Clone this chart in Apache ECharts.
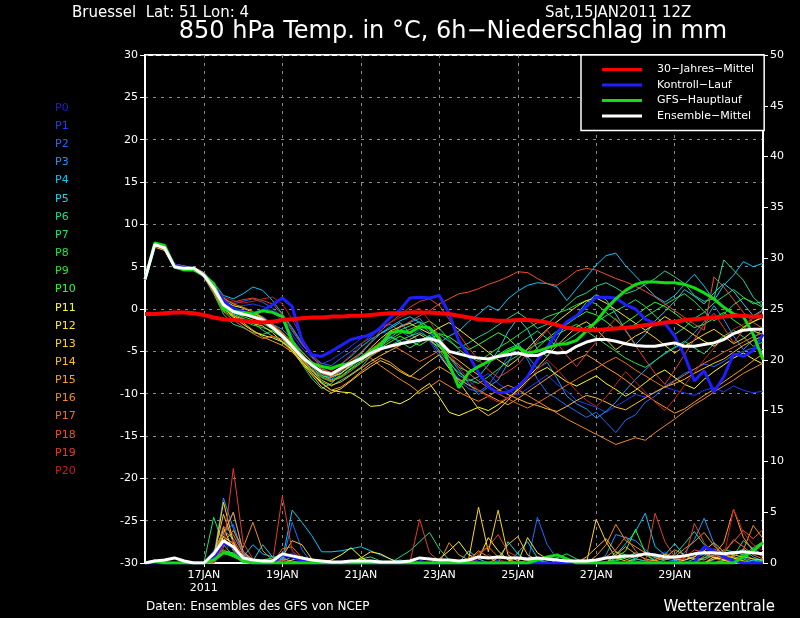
<!DOCTYPE html>
<html>
<head>
<meta charset="utf-8">
<script src="https://cdn.jsdelivr.net/npm/echarts@6/dist/echarts.min.js"></script>
<style>
  html, body { margin: 0; padding: 0; background: #000; }
  #chart { width: 800px; height: 618px; }
</style>
</head>
<body>
<div id="chart"></div>
<script>
// 6-hourly steps, 15JAN2011 12Z .. 31JAN2011 06Z (64 points)
const tickIndex = [6, 14, 22, 30, 38, 46, 54];
const tickLabels = ['17JAN\n2011', '19JAN', '21JAN', '23JAN', '25JAN', '27JAN', '29JAN'];

// 850 hPa temperature (°C)
const climate = [-0.6,-0.6,-0.5,-0.4,-0.4,-0.5,-0.7,-1.0,-1.2,-1.3,-1.4,-1.5,-1.6,-1.5,-1.3,-1.2,
  -1.1,-1.0,-1.0,-0.9,-0.9,-0.8,-0.8,-0.7,-0.6,-0.5,-0.5,-0.4,-0.4,-0.4,-0.5,-0.6,
  -0.8,-1.0,-1.2,-1.3,-1.4,-1.4,-1.3,-1.3,-1.4,-1.6,-1.9,-2.2,-2.4,-2.5,-2.5,-2.4,
  -2.3,-2.2,-2.1,-1.9,-1.8,-1.6,-1.5,-1.3,-1.2,-1.1,-1.0,-0.9,-0.8,-0.8,-0.9,-0.9];
const control = [3.5,7.5,7.3,5.2,4.9,4.7,4.0,2.8,1.0,0.0,-0.3,-0.5,-0.2,0.5,1.3,0.3,
  -3.7,-5.4,-5.6,-5.0,-4.3,-3.6,-3.3,-3.1,-2.2,-1.0,-0.1,1.3,1.4,1.3,1.6,-0.5,
  -3.8,-5.5,-7.5,-9.2,-9.9,-9.8,-9.2,-8.0,-6.0,-4.5,-2.8,-1.5,-0.8,0.3,1.4,1.4,
  1.3,0.5,0.0,-1.2,-1.7,-1.7,-3.2,-5.5,-8.5,-7.3,-9.8,-8.0,-5.3,-5.6,-4.9,-3.0];
const gfsMain = [3.5,7.8,7.5,5.0,4.6,4.6,4.0,3.0,0.0,-0.3,-0.4,-0.6,-0.2,-0.4,-0.9,-3.8,
  -5.8,-6.4,-6.8,-7.0,-6.6,-6.4,-5.8,-5.0,-4.2,-2.8,-2.6,-2.8,-2.1,-2.2,-3.5,-6.5,
  -9.3,-7.5,-6.8,-6.2,-5.6,-5.0,-4.5,-5.2,-5.0,-4.6,-4.2,-4.1,-3.7,-2.6,-1.5,0.0,
  1.2,2.2,2.9,3.2,3.2,3.1,3.1,2.9,2.5,1.9,1.2,0.2,-0.6,-0.9,-3.0,-6.0];
const ensMean = [3.5,7.6,7.2,5.0,4.8,4.8,4.0,2.5,0.5,-0.3,-0.6,-0.9,-1.3,-2.2,-3.2,-4.4,
  -5.7,-6.6,-7.4,-7.7,-7.0,-6.4,-5.9,-5.2,-4.7,-4.4,-4.1,-3.9,-3.7,-3.5,-3.8,-5.0,
  -5.3,-5.6,-5.8,-5.9,-5.6,-5.4,-5.2,-5.5,-5.5,-5.0,-5.2,-5.1,-4.4,-3.9,-3.6,-3.6,
  -3.8,-4.1,-4.3,-4.4,-4.4,-4.2,-4.0,-4.4,-4.4,-4.2,-4.0,-3.6,-2.9,-2.5,-2.4,-2.4];

const p1 = [3.5,7.4,7.0,5.1,4.9,4.6,3.7,2.2,0.8,0.2,0.4,0.6,0.3,-0.2,-1.5,-3.0,-4.6,-5.8,-6.5,-6.0,-5.2,-4.4,
  -3.5,-2.8,-2.5,-3.2,-4.0,-3.6,-2.9,-3.8,-5.6,-7.0,-8.2,-9.0,-8.4,-7.6,-8.8,-9.6,-10.2,-9.4,-8.6,-7.8,-8.9,-9.7,-10.8,-11.2,
  -11.6,-12.2,-11.5,-10.8,-10.1,-10.4,-9.9,-9.2,-9.6,-9.9,-10.2,-9.6,-9.3,-9.8,-9.1,-9.6,-9.9,-9.7];
const p2 = [3.5,7.7,7.3,5.0,4.7,4.9,4.2,2.9,1.2,0.6,0.9,1.2,0.8,0.1,-1.0,-2.6,-4.2,-5.5,-6.4,-6.7,-5.8,-5.0,
  -4.1,-3.4,-2.2,-1.8,-2.6,-3.3,-2.4,-3.6,-5.2,-6.8,-8.4,-9.4,-9.8,-9.0,-7.4,-5.6,-4.4,-6.0,-8.3,-9.9,-10.6,-11.4,-12.1,-12.8,
  -12.2,-13.4,-14.6,-13.1,-12.5,-11.0,-10.3,-9.1,-8.4,-7.6,-7.1,-6.5,-6.8,-6.2,-5.4,-5.0,-4.6,-4.8];
const p3 = [3.5,7.5,7.1,5.2,5.0,4.8,4.1,2.6,0.4,-0.5,-0.8,-0.5,-0.9,-1.8,-2.4,-3.6,-5.0,-6.2,-7.6,-8.3,-7.5,-6.8,
  -6.0,-5.4,-4.6,-3.1,-2.0,-1.6,-1.1,-2.5,-4.1,-5.7,-7.2,-8.8,-10.1,-9.2,-8.4,-6.4,-4.0,-5.6,-7.0,-6.3,-8.2,-10.3,-11.2,-11.8,
  -12.9,-12.1,-11.0,-9.6,-8.3,-7.2,-6.1,-5.3,-4.6,-4.0,-2.8,-1.5,0.4,-1.2,-3.2,-4.8,-3.6,-2.2];
const p4 = [3.5,7.8,7.5,5.3,5.0,4.9,4.3,3.1,1.6,1.2,1.8,2.6,2.2,1.0,-0.6,-2.2,-4.0,-5.6,-6.8,-7.2,-6.5,-5.6,
  -4.5,-3.6,-2.9,-2.1,-1.4,-0.9,-1.6,-2.8,-4.0,-3.2,-2.6,-1.5,-0.6,0.4,-0.2,1.2,2.1,2.8,3.1,3.0,2.6,1.0,2.4,3.8,
  5.2,6.3,6.6,5.1,3.9,2.7,1.5,0.8,1.6,2.9,4.1,2.7,1.0,2.8,4.0,5.6,5.0,5.4];
const p5 = [3.5,7.6,7.2,5.1,4.8,4.7,4.0,2.4,0.6,-0.2,-0.4,-1.0,-1.6,-2.0,-2.9,-4.1,-5.6,-6.9,-7.9,-8.1,-7.3,-6.4,
  -5.3,-4.0,-2.9,-2.3,-1.6,-2.8,-3.9,-3.2,-4.4,-6.2,-7.8,-8.5,-8.0,-6.6,-4.9,-2.7,-1.1,-2.4,-4.8,-5.6,-3.5,-1.6,-0.7,0.8,
  1.7,1.1,-0.6,-2.5,-4.2,-3.0,-1.4,-0.3,0.9,2.3,1.5,0.6,1.9,3.0,2.1,0.6,-0.8,-0.1];
const p6 = [3.5,7.4,7.0,4.8,4.6,4.8,3.9,2.3,0.2,-0.6,-1.1,-1.6,-2.5,-3.2,-3.8,-4.6,-5.9,-7.2,-8.6,-9.1,-8.4,-7.7,
  -6.9,-5.6,-4.2,-3.4,-2.5,-2.0,-1.5,-2.2,-3.0,-3.8,-4.6,-4.0,-3.3,-2.7,-1.9,-1.1,-0.4,-1.2,-2.3,-1.8,-0.7,0.4,1.4,1.9,
  2.7,3.1,2.5,1.8,2.2,2.9,3.6,4.5,3.8,3.0,1.6,0.9,1.2,5.8,4.6,3.4,1.4,0.3];
const p7 = [3.5,7.6,7.3,5.2,4.9,4.6,3.8,1.8,-0.6,-1.8,-2.2,-2.8,-3.0,-2.6,-3.2,-4.8,-6.5,-8.2,-9.4,-8.8,-7.6,-6.5,
  -5.6,-4.9,-4.1,-3.3,-3.8,-4.6,-3.9,-3.1,-4.3,-5.6,-6.9,-7.4,-6.8,-6.1,-5.4,-4.7,-4.2,-3.4,-2.6,-3.5,-4.4,-3.7,-2.9,-2.1,
  -1.6,-0.8,-0.2,0.4,1.1,0.3,-0.8,-1.9,-3.0,-2.2,-1.1,-0.4,0.7,1.5,2.3,1.4,0.6,0.9];
const p8 = [3.5,7.5,7.1,5.0,4.8,4.9,4.1,2.7,0.9,0.1,-0.2,-0.6,-1.2,-2.1,-3.5,-4.9,-6.2,-7.3,-8.1,-8.6,-8.0,-7.1,
  -6.4,-5.5,-4.8,-4.3,-3.7,-3.2,-2.8,-3.4,-4.9,-6.4,-7.5,-8.3,-8.8,-8.0,-7.1,-6.2,-5.5,-4.8,-4.1,-3.6,-3.0,-2.4,-1.8,-2.6,
  -3.4,-4.2,-5.0,-5.8,-6.4,-6.9,-6.1,-5.2,-4.5,-3.8,-4.6,-5.3,-4.1,-3.2,-2.5,-3.3,-4.4,-3.9];
const p9 = [3.5,7.7,7.4,5.1,4.9,4.7,3.9,2.0,-0.2,-1.0,-1.4,-1.9,-2.2,-2.6,-3.4,-4.4,-5.7,-6.8,-7.5,-7.9,-7.2,-6.6,
  -6.0,-5.2,-4.4,-3.6,-2.9,-2.4,-1.9,-1.4,-2.3,-3.6,-4.8,-5.6,-6.2,-5.4,-4.6,-3.9,-3.1,-2.3,-1.6,-0.9,-0.5,-0.1,0.5,1.0,
  0.6,-0.4,-1.3,-2.4,-1.8,-0.9,-0.2,0.5,1.2,1.8,0.9,-0.3,-1.4,-0.6,0.5,1.3,0.8,0.2];
const p10 = [3.5,7.5,7.2,5.0,4.7,4.8,4.0,2.3,0.3,-0.4,-0.9,-1.3,-1.7,-2.4,-3.1,-4.0,-5.3,-6.6,-7.8,-8.4,-7.9,-7.0,
  -6.2,-5.3,-4.6,-3.9,-3.2,-3.8,-4.3,-3.6,-2.9,-3.3,-4.1,-4.8,-4.2,-3.5,-2.8,-3.4,-4.6,-5.8,-4.6,-3.5,-2.6,-1.8,-1.0,-0.3,
  -0.7,-1.5,-2.4,-1.6,-0.8,0.1,0.8,0.3,-0.5,-1.4,-2.2,-1.8,-1.1,-0.4,-1.3,-2.1,-1.5,-0.9];
const p11 = [3.5,7.4,7.0,5.2,5.0,4.7,3.8,2.1,0.1,-0.9,-1.8,-2.6,-3.1,-3.4,-3.9,-4.8,-6.2,-7.5,-8.7,-9.6,-9.8,-9.9,
  -10.6,-11.5,-11.4,-10.9,-11.2,-10.6,-9.6,-8.8,-10.4,-12.2,-12.6,-12.1,-11.6,-12.0,-11.3,-10.5,-9.6,-8.4,-7.5,-6.9,-7.8,-8.6,-9.1,-8.5,
  -7.9,-8.8,-9.5,-10.3,-9.6,-8.7,-7.8,-7.2,-8.1,-8.9,-9.4,-8.3,-7.4,-6.6,-5.8,-5.2,-5.9,-6.5];
const p12 = [3.5,7.7,7.3,5.0,4.8,4.9,4.2,2.8,1.0,0.4,0.1,-0.4,-1.1,-2.0,-3.0,-4.2,-5.4,-6.6,-7.4,-8.0,-7.6,-6.7,
  -5.8,-4.6,-3.5,-2.6,-2.1,-1.7,-2.3,-2.9,-2.2,-1.6,-2.4,-3.3,-4.2,-5.1,-6.0,-6.8,-5.9,-4.7,-3.5,-2.4,-1.5,-0.6,0.3,1.0,
  1.3,0.7,-0.1,-0.9,-1.7,-2.5,-1.8,-0.9,-1.6,-2.3,-3.1,-3.8,-4.4,-3.6,-2.9,-2.2,-1.5,-1.0];
const p13 = [3.5,7.5,7.1,5.1,4.9,4.6,3.9,2.2,0.0,-0.8,-1.2,-1.7,-2.0,-2.8,-3.9,-5.0,-6.4,-7.8,-9.2,-9.9,-9.4,-8.5,
  -7.6,-6.8,-6.1,-6.6,-7.4,-8.0,-7.1,-6.2,-5.4,-7.0,-8.6,-10.2,-11.8,-12.6,-11.9,-10.8,-9.4,-8.1,-6.9,-5.6,-4.3,-3.2,-2.1,-1.5,
  -2.4,-3.6,-4.8,-4.0,-3.2,-2.6,-3.4,-4.3,-5.2,-4.4,-3.7,-3.0,-2.4,-3.2,-4.1,-3.5,-2.6,-3.0];
const p14 = [3.5,7.3,6.9,4.9,4.7,4.8,4.1,2.6,0.7,-0.1,-0.5,-0.9,-1.5,-2.3,-3.3,-4.5,-5.9,-7.2,-8.4,-9.0,-8.6,-7.8,
  -7.0,-6.2,-5.5,-4.9,-4.3,-3.6,-3.0,-3.7,-4.5,-5.3,-6.1,-7.0,-7.8,-8.7,-9.5,-10.1,-10.6,-11.1,-11.4,-11.8,-12.1,-11.5,-10.8,-10.2,
  -10.5,-11.0,-11.6,-11.9,-11.2,-10.5,-9.8,-9.2,-8.8,-8.3,-7.6,-7.0,-6.4,-5.9,-5.1,-4.3,-3.7,-3.2];
const p15 = [3.5,7.6,7.2,5.3,5.1,4.8,4.0,2.4,0.2,-0.7,-1.6,-2.5,-3.3,-3.8,-4.3,-5.1,-6.3,-7.6,-8.8,-9.6,-9.2,-8.4,
  -7.4,-6.5,-5.8,-6.3,-7.2,-7.9,-8.4,-7.6,-6.8,-7.5,-8.3,-9.0,-9.6,-10.2,-10.8,-11.3,-10.6,-9.8,-9.0,-8.2,-7.4,-6.6,-5.9,-5.4,
  -6.1,-6.9,-7.6,-8.4,-9.3,-10.1,-10.9,-11.6,-12.3,-11.8,-11.0,-10.2,-9.5,-8.6,-7.8,-7.0,-6.1,-5.3];
const p16 = [3.5,7.8,7.4,5.0,4.8,4.9,4.3,3.0,1.3,0.6,0.2,-0.3,-1.0,-1.9,-2.8,-3.8,-5.1,-6.2,-7.1,-7.5,-6.9,-6.0,
  -5.2,-5.8,-6.7,-7.5,-8.3,-9.0,-9.9,-9.2,-8.4,-9.1,-9.8,-10.4,-10.9,-10.3,-9.6,-9.0,-9.5,-10.2,-10.9,-11.6,-12.3,-13.0,-13.6,-14.2,
  -14.8,-15.4,-16.0,-15.6,-15.2,-15.5,-14.6,-13.8,-13.0,-12.1,-11.3,-10.6,-9.8,-9.1,-8.4,-7.6,-7.0,-6.4];
const p17 = [3.5,7.5,7.1,5.1,4.8,4.6,3.8,2.0,-0.3,-1.3,-2.1,-2.9,-3.5,-3.2,-3.6,-4.7,-6.0,-7.1,-8.0,-8.5,-8.1,-7.3,
  -6.4,-5.6,-4.9,-4.2,-4.8,-5.5,-6.2,-5.6,-4.9,-5.7,-6.6,-7.6,-8.5,-9.3,-10.0,-10.6,-11.2,-11.7,-11.1,-10.4,-9.7,-9.0,-8.3,-7.6,
  -7.0,-6.3,-5.7,-6.4,-7.2,-7.9,-8.6,-9.3,-8.5,-7.8,-7.1,-6.4,-5.8,-5.1,-4.5,-3.9,-3.3,-2.8];
const p18 = [3.5,7.6,7.3,5.2,5.0,4.7,3.9,2.5,0.6,-0.2,-0.6,-1.1,-1.4,-1.8,-2.7,-4.0,-5.5,-6.7,-7.6,-8.0,-7.3,-6.5,
  -5.7,-4.8,-3.9,-3.0,-2.2,-1.5,-0.8,-0.2,0.6,1.2,1.8,2.0,2.4,2.9,3.3,3.8,4.4,4.3,3.6,3.0,2.8,3.6,4.5,4.8,
  4.6,4.1,3.6,3.2,2.7,2.1,1.4,0.6,-0.2,-1.0,-1.8,-2.5,3.8,2.6,1.1,-0.4,-1.6,-2.3];
const p19 = [3.5,7.4,7.0,4.9,4.7,4.8,4.0,2.7,1.0,0.8,1.1,1.3,1.0,0.6,-0.7,-2.4,-4.1,-5.6,-6.9,-7.7,-7.2,-6.2,
  -5.1,-3.9,-2.6,-1.6,-0.7,0.2,0.9,1.2,0.4,-1.2,-3.0,-4.6,-6.0,-7.2,-8.1,-7.4,-6.6,-5.2,-3.8,-2.5,-4.0,-5.5,-6.8,-5.3,
  -3.9,-2.4,-1.1,-2.6,-4.3,-6.0,-7.6,-8.9,-7.2,-5.4,-3.6,-1.8,-0.5,-2.2,-4.0,-2.5,-1.0,-0.2];
const p20 = [3.5,7.6,7.2,5.0,4.8,4.7,4.1,2.9,1.4,1.0,0.7,0.9,1.2,1.4,0.6,-1.2,-3.4,-5.3,-6.6,-7.3,-6.5,-5.4,
  -4.2,-3.1,-2.2,-1.6,-1.0,-0.4,0.1,-1.4,-3.2,-5.1,-6.9,-8.4,-9.6,-10.4,-11.0,-10.5,-9.9,-8.6,-7.2,-6.0,-7.1,-8.4,-9.7,-10.8,
  -11.5,-10.4,-8.9,-7.4,-8.6,-9.8,-11.0,-12.0,-10.6,-9.0,-7.5,-6.0,-4.6,-3.5,-2.4,-1.8,-1.1,-0.6];

// 6h precipitation (mm)
const rControl = [0,0,0,0,0,0,0,0.5, 2.0,1.5,0.4,0,0,0,0.8,0.6, 0.2,0,0,0,0,0,0,0, 0,0,0,0,0,0,0,0,
  0,0,0,0,0,0,0,0, 0,0,0,0,0,0,0,0, 0,0,0,0,0,0,0,0, 0,1.6,1.2,0.6,0.2,0,0,0];
const rGfs = [0,0.2,0,0,0,0,0,0.3, 1.0,0.8,0.2,0,0,0,0,0, 0,0,0,0,0,0,0,0, 0,0,0,0,0,0,0,0,
  0,0,0,0,0,0,0,0, 0.3,0.6,0.8,0.4,0,0,0,0, 0,0,0,0,0,0,0,0, 0,0,0,0,0,0.6,1.2,2.0];
const rMean = [0,0.2,0.3,0.5,0.2,0,0,0.9, 2.2,1.6,0.5,0.3,0.2,0.2,0.9,0.7, 0.5,0.3,0.2,0.1,0.1,0.2,0.2,0.2,
  0.1,0.1,0.1,0.2,0.5,0.4,0.3,0.3, 0.2,0.3,0.6,0.5,0.6,0.5,0.5,0.4, 0.5,0.4,0.3,0.2,0.2,0.2,0.3,0.5,
  0.6,0.7,0.7,0.9,0.8,0.6,0.6,0.7, 0.9,1.0,1.0,0.9,1.0,1.1,1.0,0.9];
const r1 = [0,0.2,0,0,0,0,0,0.8, 2.5,5.0,1.2,0.3,0,0,0.4,1.0, 0.3,0,0,0,0,0,0,0, 0,0,0,0,0.2,0.5,0,0,
  0,0,0.3,0.6,0.2,0,0,0, 0,0,0,0,0.2,0.4,0.3,0.1, 0,0,0,0,0.5,1.1,0.4,0.2, 0.8,1.6,0.6,0.3,0.2,0,0,0];
const r2 = [0,0,0.1,0,0,0,0,1.2, 3.1,3.8,0.8,0.2,0,0,0,4.0, 1.3,0,0,0,0,0,0,0, 0,0,0,0,0,0,0,0,
  0,0,0,0,0,0,0,0, 4.5,1.8,0.4,0,0,0,0,0, 0,0,0.4,0.2,0,0,0,0, 0,0,0.3,0.6,0.2,0.1,0,0.3];
const r3 = [0,0,0,0,0,0,0,0.6, 6.4,3.4,0.9,0.4,0,0,0.2,0.6, 0.1,0,0,0,0,0,0,0, 0,0,0,0,0,0,0,0,
  0.2,0.4,0,0,0,0,0,0, 0,0.6,0.3,0,0,0,0,0.8, 2.8,2.5,2.2,1.3,0.6,0.4,0.2,1.0, 2.3,4.4,1.9,0.6,0.3,0.5,0.2,0.1];
const r4 = [0,0,0,0,0,0,0,0.3, 2.2,1.6,0.6,1.8,0.9,0.6,0.3,5.2, 4.0,2.7,1.1,1.1,1.2,1.4,1.6,1.2, 0.8,0.4,0,0,0,0,0,0,
  0,0,0,0,0,0,1.0,2.1, 0.5,0,0,0,0,0,0,0, 0.8,1.9,3.1,4.9,1.6,0.8,0.3,0, 0.4,0.9,0.5,0.3,0.8,1.4,0.6,0.2];
const r5 = [0,0,0,0,0,0,0,1.0, 3.2,2.4,0.5,0.2,1.8,0.6,0.4,0.2, 0,0,0,0,0,0,0,0, 0,0,0.3,0,0,0,0,0,
  0,1.2,0.4,0,0,2.1,0.9,0.2, 0.3,0.6,0.4,0.2,0,0,0,0, 0,0,0.4,1.1,0.6,0.8,1.9,0.7, 0.3,0.5,1.2,0.6,0.2,0,0.3,0.1];
const r6 = [0,0,0.1,0,0,0,0,0, 1.2,1.0,0.3,0,0,0,0,0, 0,0,0,0,0,0,0,0, 0,0,0.6,1.2,2.1,3.0,1.4,0.3,
  0,0,0,0,0,0,0,0, 0,0,0,0,0,0,0,0, 1.1,0.8,0.4,0.2,0,0.3,0.8,1.9, 3.1,1.8,0.9,0.5,0.7,2.2,1.4,0.8];
const r7 = [0,0,0,0,0,0,0,4.5, 1.8,0.7,0.3,0,0,0,0,0, 0,0,0,0,0,0,0.4,0.6, 0.2,0,0,0,0,0,0,0,
  0,0,0,0,0,0,0,0, 0,0.2,0.5,0.9,0.4,0,0,0, 0.2,0.5,1.0,0.8,0.2,0,0,0, 0,0.5,0.8,1.3,1.1,0.8,1.5,2.1];
const r8 = [0,0,0,0,0,0,0,0.3, 1.1,0.9,0.2,0,0.3,0.5,0.9,0.7, 0.5,0.4,0.2,0,0,0,0,0, 0,0,0,0,0,0,0,0,
  0,0,0,0,0,0,0,0, 0,0,0,0,0,0,0,0.1, 0.3,0.6,0.2,0,0,0,0,0, 0,0,0,0.2,0.4,0.8,0.4,0.2];
const r9 = [0,0,0,0,0,0,0,0.6, 1.3,0.8,0,0,0,0,0,0, 0,0,0,0,0,0,0,0, 0,0,0,0,0,0,0,0,
  0,0,0,0,0,0,0,0, 0,0,0,0,0,0,0,0, 0,0,0,0,0,0,0,0, 0,0,0,0.3,0.6,0.4,0,0];
const r10 = [0,0.3,0,0,0,0,0,0.4, 1.0,0.6,0.2,0,0,0,0,0, 0,0,0,0,0,0,0,0, 0,0,0,0,0,0,0,0,
  0,0,0,0,0,0,0,0.3, 0,0,0,0,0,0,0,0, 0.5,1.2,3.3,1.0,0.2,0,0,0, 0,0,0,0,0,0.2,0,0];
const r11 = [0,0,0,0,0,0,0,0.5, 2.6,1.9,0.6,0,0,0,0,0, 0,0,0,0.3,0.8,1.5,0.6,0, 0,0,0,0,0,0,0.4,1.2,
  2.1,0.8,0.4,2.5,1.2,0.3,0,0, 0,0,0,0,0,0,0,0, 0,0,0,0,0,0,0,0.3, 0.6,1.2,0.5,0.3,0,0,0,0];
const r12 = [0,0,0,0,0,0,0,0.2, 3.5,1.2,0.3,0,0,0,0,0, 0,0,0,0,0,0,0.5,1.1, 0.9,0.4,0,0,0,0,0,0,
  0,0,0,0,0,0,0,2.5, 1.0,0.4,0,0,0,0,0,0, 0,0,0,0,0,0,0,0, 0,0,0.6,0.3,0,0,0,0];
const r13 = [0,0,0,0,0,0,0,0.3, 6.0,2.1,0.7,0,0,0,0,0.3, 0.6,0.2,0,0,0,0,0,0, 0,0,0,0,0,0,0,0,
  0,0.4,5.5,1.1,5.2,0.8,0.2,0, 0,0,0,0,0,0,4.3,2.1, 0.5,0.2,0,0,0,0,0,0, 0,0,0.4,0.8,0.5,0.2,0,0];
const r14 = [0,0,0,0,0,0,0,0.6, 4.8,2.0,0.5,0,0,0,0.6,2.2, 1.8,0.4,0,0,0,0,0,0, 0,0,0,0,0,0,0,0,
  0,0,0,0,0.5,1.8,2.6,0.8, 0.3,0,0,0,0,0.6,1.5,2.4, 1.1,0.4,0,0,0.3,0.9,0.4,0.3, 0.6,1.2,2.0,1.1,0.8,0.6,0.4,0.3];
const r15 = [0,0,0,0,0,0,0,0.4, 2.9,5.0,1.1,0.3,0,0,0,0, 0,0,0,0,0,0,0,0, 0,0,0,0,0,0,0,0,
  0,0.3,1.2,0.6,0,0,0,0, 0,0,0,0,0,0,0,0, 0.8,1.6,0.9,0.4,0.2,0.5,1.3,0.8, 0.4,0.3,0.8,2.0,5.3,2.5,1.2,0.6];
const r16 = [0,0,0,0,0,0,0,0.2, 2.0,3.2,1.5,4.0,1.2,0.3,0.6,0, 0,0,0,0,0,0,0,0, 0,0,0,0,0,0,0,2.0,
  0.8,0.3,0,0,0,0,0,0, 0,0,0,0,0,0,0.7,1.8, 3.8,2.2,1.6,1.0,0.5,0.3,0.6,1.4, 2.1,3.0,1.7,0.8,0.6,1.3,3.7,2.4];
const r17 = [0,0,0,0,0,0,0,0.3, 3.6,2.8,0.9,0.3,0,0,1.4,1.6, 0.5,0,0,0,0,0,0,0, 0,0,0,0,0,0,0,0,
  0,0,0.8,1.6,0.6,0.4,0,0, 0,0,0,0,0,0,0,0.6, 1.3,2.6,1.2,0.3,0,0,0,0, 0,0.7,1.4,0.9,2.3,1.6,0.8,0.4];
const r18 = [0,0,0,0,0,0,0,0, 1.8,2.2,0.6,0,0,0,0.3,0, 0,0,0,0,0,0,0,0, 0,0,0,0,0,0,0,0,
  0,0,0,0,0,0,0,0, 0,0,0,0,0,0,0,0, 0,0,0,0,0,0,0,0.5, 1.3,1.0,0.6,1.2,2.1,3.2,2.4,3.3];
const r19 = [0,0,0,0,0,0,0,0.2, 1.5,9.3,2.0,0.4,0,0,6.6,1.2, 0.3,0,0,0,0,0,0,0, 0,0,0,0,4.3,1.0,0.2,0,
  0,0.4,1.0,1.6,2.8,1.1,0.6,0.2, 0,0,0,0,0,0,0,0, 0,0,0,0,4.9,2.1,0.6,0.3, 3.9,2.0,0.8,0.4,0,0,0,0];
const r20 = [0,0,0,0,0,0,0,0, 1.0,2.3,0.5,0,0,0,0,0, 0,0,0,0,0,0,0,0, 0,0,0,0,0,0,0,0,
  0,0,0.5,0.8,0.4,0,0,0, 0,0,0,0,0,0,0,0, 0,0,0,0,0,0,0,0, 0,0,0,0.5,5.3,3.0,1.8,1.2];

const memberNames = ['P0','P1','P2','P3','P4','P5','P6','P7','P8','P9','P10',
  'P11','P12','P13','P14','P15','P16','P17','P18','P19','P20'];
const memberColors = ['#1e1ed8','#1e3cff','#1e6eff','#1e96ff','#00c8ff','#20d2e6','#20d88c','#20e070',
  '#20e050','#34e034','#28ff28','#ffff1e','#ffe61e','#ffd21e','#ffbe1e','#ffa01e','#f08c1e','#f06e1e',
  '#f05028','#e63c28','#c81e1e'];
const memberTemps = [p1,p2,p3,p4,p5,p6,p7,p8,p9,p10,p11,p12,p13,p14,p15,p16,p17,p18,p19,p20];
const memberRain = [r1,r2,r3,r4,r5,r6,r7,r8,r9,r10,r11,r12,r13,r14,r15,r16,r17,r18,r19,r20];

const legendNames = ['30\u2212Jahres\u2212Mittel', 'Kontroll\u2212Lauf', 'GFS\u2212Hauptlauf', 'Ensemble\u2212Mittel'];

// category labels, one per 6h step
const categories = [];
for (let i = 0; i < climate.length; i++) {
  const h = 12 + 6 * i;
  categories.push((15 + Math.floor(h / 24)) + 'JAN ' + String(h % 24).padStart(2, '0') + 'Z');
}

const FONT = 'DejaVu Sans';
const isTick = idx => tickIndex.indexOf(idx) >= 0;

const series = [];
memberRain.forEach((d, k) => {
  series.push({
    name: 'R' + memberNames[k + 1], type: 'line', yAxisIndex: 1, data: d, symbol: 'none',
    lineStyle: { width: 1, color: memberColors[k + 1] }, z: 2
  });
});
memberTemps.forEach((d, k) => {
  series.push({
    name: memberNames[k + 1], type: 'line', yAxisIndex: 0, data: d, symbol: 'none',
    lineStyle: { width: 1, color: memberColors[k + 1] }, z: 3
  });
});
const mains = [
  [legendNames[1], control, rControl, '#1e1eff', 3],
  [legendNames[2], gfsMain, rGfs, '#14dc14', 3],
  [legendNames[3], ensMean, rMean, '#ffffff', 3]
];
mains.forEach(([name, t, r, c, w], k) => {
  series.push({ name: name + ' R', type: 'line', yAxisIndex: 1, data: r, symbol: 'none',
    lineStyle: { width: w, color: c }, z: 4 + k });
  series.push({ name: name, type: 'line', yAxisIndex: 0, data: t, symbol: 'none',
    itemStyle: { color: c }, lineStyle: { width: w, color: c }, z: 4 + k });
});
series.push({ name: legendNames[0], type: 'line', yAxisIndex: 0, data: climate, symbol: 'none',
  itemStyle: { color: '#ff0000' }, lineStyle: { width: 4, color: '#ff0000' }, z: 8 });

const graphic = [
  { type: 'text', x: 72, y: 13, style: { text: 'Bruessel  Lat: 51 Lon: 4', fill: '#fff',
    font: '15px ' + FONT, textVerticalAlign: 'middle', verticalAlign: 'middle' } },
  { type: 'text', x: 545, y: 13, style: { text: 'Sat,15JAN2011 12Z', fill: '#fff',
    font: '15px ' + FONT, textVerticalAlign: 'middle', verticalAlign: 'middle' } },
  { type: 'text', x: 453, y: 32, style: { text: '850 hPa Temp. in \u00b0C, 6h\u2212Niederschlag in mm', fill: '#fff',
    font: '24px ' + FONT, textAlign: 'center', align: 'center', textVerticalAlign: 'middle', verticalAlign: 'middle' } },
  { type: 'text', x: 146, y: 607, style: { text: 'Daten: Ensembles des GFS von NCEP', fill: '#fff',
    font: '12px ' + FONT, textVerticalAlign: 'middle', verticalAlign: 'middle' } },
  { type: 'text', x: 775, y: 607, style: { text: 'Wetterzentrale', fill: '#fff',
    font: '15px ' + FONT, textAlign: 'right', align: 'right', textVerticalAlign: 'middle', verticalAlign: 'middle' } }
];
memberNames.forEach((n, k) => {
  graphic.push({ type: 'text', x: 55, y: 108 + k * 18.15, style: { text: n, fill: memberColors[k],
    font: '11px ' + FONT, textVerticalAlign: 'middle', verticalAlign: 'middle' } });
});

const gridLine = { show: true, lineStyle: { color: '#8c8c8c', width: 1, type: [3, 5] } };
const axisWhite = { show: true, onZero: false, lineStyle: { color: '#fff', width: 2 } };

const chart = echarts.init(document.getElementById('chart'), null, { renderer: 'canvas' });
chart.setOption({
  backgroundColor: '#000',
  animation: false,
  textStyle: { fontFamily: FONT },
  graphic: graphic,
  grid: { left: 145, right: 37, top: 55, bottom: 55, show: true, borderColor: '#fff', borderWidth: 2,
    backgroundColor: '#000' },
  legend: {
    data: legendNames, orient: 'vertical', left: 581, top: 55,
    padding: [9, 10, 9, 21], itemGap: 4.5, itemWidth: 40, itemHeight: 10,
    icon: 'path://M0,4 L40,4 L40,7 L0,7 Z',
    borderColor: '#fff', borderWidth: 1.5, backgroundColor: '#000',
    textStyle: { color: '#fff', fontSize: 11, padding: [0, 0, 0, 10] },
    selectedMode: false
  },
  xAxis: {
    type: 'category', data: categories, boundaryGap: false,
    axisLine: axisWhite,
    axisTick: { show: true, interval: isTick, length: 4, lineStyle: { color: '#fff' } },
    axisLabel: { interval: isTick, color: '#fff', fontSize: 11, margin: 6, lineHeight: 13,
      formatter: (v, idx) => tickLabels[tickIndex.indexOf(idx)] || '' },
    splitLine: Object.assign({ interval: isTick }, gridLine)
  },
  yAxis: [
    { type: 'value', min: -30, max: 30, interval: 5, position: 'left',
      axisLine: axisWhite, axisTick: { show: true, length: 5, lineStyle: { color: '#fff' } },
      axisLabel: { color: '#fff', fontSize: 11, margin: 7 }, splitLine: gridLine },
    { type: 'value', min: 0, max: 50, interval: 5, position: 'right',
      axisLine: axisWhite, axisTick: { show: true, length: 5, lineStyle: { color: '#fff' } },
      axisLabel: { color: '#fff', fontSize: 11, margin: 7 }, splitLine: { show: false } }
  ],
  series: series
});
</script>
</body>
</html>
